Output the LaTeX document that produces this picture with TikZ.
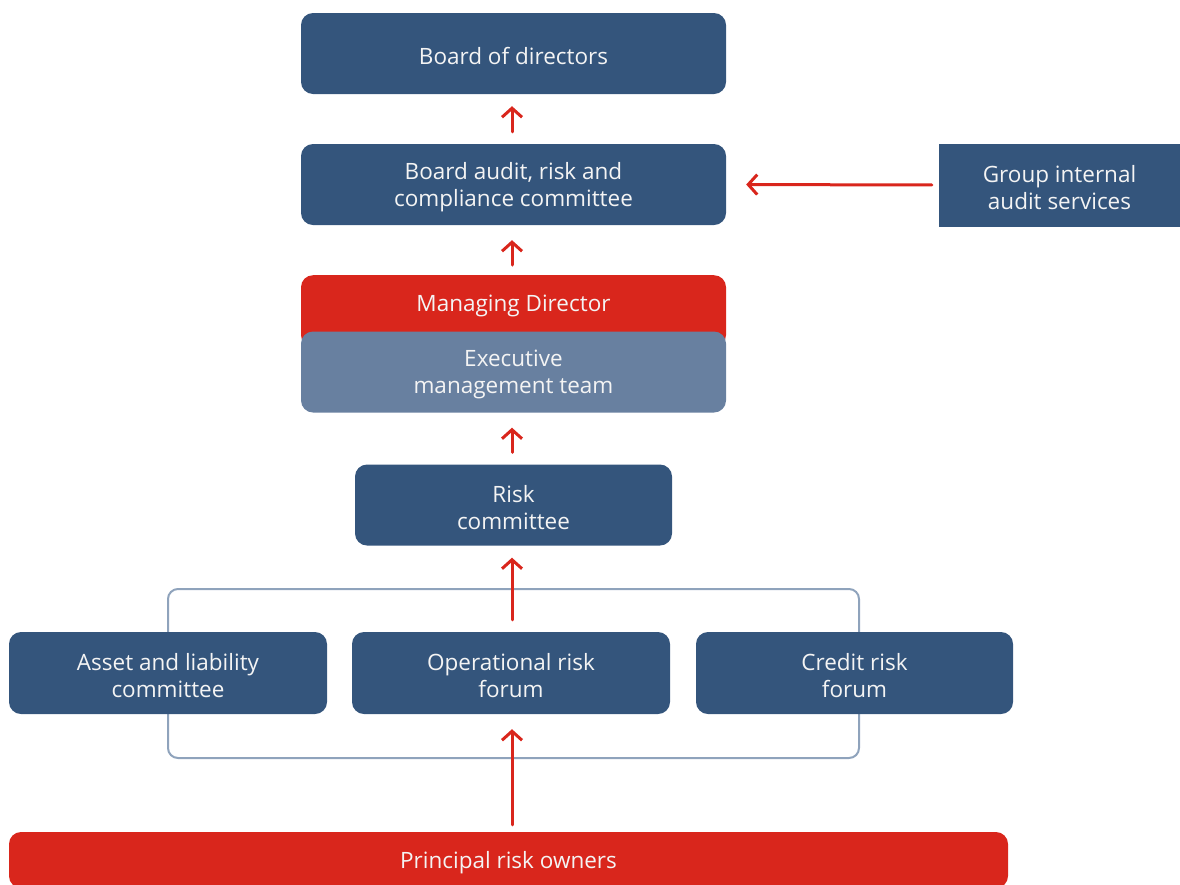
\documentclass[tikz,border=0pt]{standalone}
\usepackage{fontspec}
\setmainfont{Open Sans}
\usetikzlibrary{arrows.meta}
\definecolor{boxblue}{HTML}{34557C}
\definecolor{boxred}{HTML}{D9261C}
\definecolor{boxgrey}{HTML}{6880A0}
\definecolor{framegrey}{HTML}{8FA3BC}
\definecolor{labelwhite}{HTML}{F4F4F4}
\begin{document}
\begin{tikzpicture}[x=1pt,y=-1pt,
  labelfont/.style={font=\fontsize{22.5}{27}\selectfont, text=labelwhite},
  caption/.style={label={[labelfont, align=center, inner sep=0pt, yshift=-2.5pt]center:{#1}}},
  unit/.style={rounded corners=12pt, inner sep=0pt},
  bluebox/.style={unit, fill=boxblue},
  redbox/.style={unit, fill=boxred},
  greybox/.style={unit, fill=boxgrey},
  flow/.style={draw=boxred, line width=3pt, line cap=round,
    -{Straight Barb[length=9pt,width=20pt,line width=3pt]}},
  bracket/.style={draw=framegrey, line width=2pt, rounded corners=10pt, inner sep=0pt}
]
\clip (0,0) rectangle (1180,884);
\useasboundingbox (0,0) rectangle (1180,884);

% top of the hierarchy
\node[bluebox, minimum width=425pt, minimum height=81pt, caption={Board of directors}] (board) at (513.5,53.5) {};
\node[bluebox, minimum width=425pt, minimum height=81pt, caption={Board audit, risk and\\compliance committee}] (audit) at (513.5,184.5) {};
\node[fill=boxblue, inner sep=0pt, minimum width=241pt, minimum height=83pt,
  caption={Group internal\\audit services}] (gias) at (1059.5,185) {};

% managing director above the executive team
\node[redbox, minimum width=425pt, minimum height=72pt, anchor=north] (md) at (513.5,275) {};
\node[labelfont, inner sep=0pt] (mdlabel) at (513.5,305.5) {Managing Director};
\node[greybox, minimum width=425pt, minimum height=81pt, caption={Executive\\management team}] (emt) at (513.5,372) {};

\node[bluebox, minimum width=317pt, minimum height=81pt, caption={Risk\\committee}] (risk) at (513.5,505) {};

% frame grouping the three forums
\node[bracket, minimum width=691pt, minimum height=169pt] (group) at (513.5,673.5) {};
\node[bluebox, minimum width=318pt, minimum height=82pt, caption={Asset and liability\\committee}] (alco) at (168,673) {};
\node[bluebox, minimum width=318pt, minimum height=82pt, caption={Operational risk\\forum}] (orf) at (511,673) {};
\node[bluebox, minimum width=317pt, minimum height=82pt, caption={Credit risk\\forum}] (crf) at (854.5,673) {};

\node[redbox, minimum width=999pt, minimum height=56pt, caption={Principal risk owners}] (pro) at (508.5,860) {};

% reporting lines
\draw[flow, shorten <=12pt, shorten >=12pt] (audit.north -| 512,0) -- (board.south -| 512,0);
\draw[flow, shorten <=10pt, shorten >=15pt] (md.north -| 512,0) -- (audit.south -| 512,0);
\draw[flow, shorten <=12pt, shorten >=15pt] (risk.north -| 512,0) -- (emt.south -| 512,0);
\draw[flow, shorten <=12pt, shorten >=12pt] (orf.north -| 512,0) -- (risk.south -| 512,0);
\draw[flow, shorten <=7pt, shorten >=15pt] (pro.north -| 512,0) -- (orf.south -| 512,0);
\draw[flow, shorten <=7pt, shorten >=20pt] (gias.west) -- (audit.east);
\end{tikzpicture}
\end{document}
